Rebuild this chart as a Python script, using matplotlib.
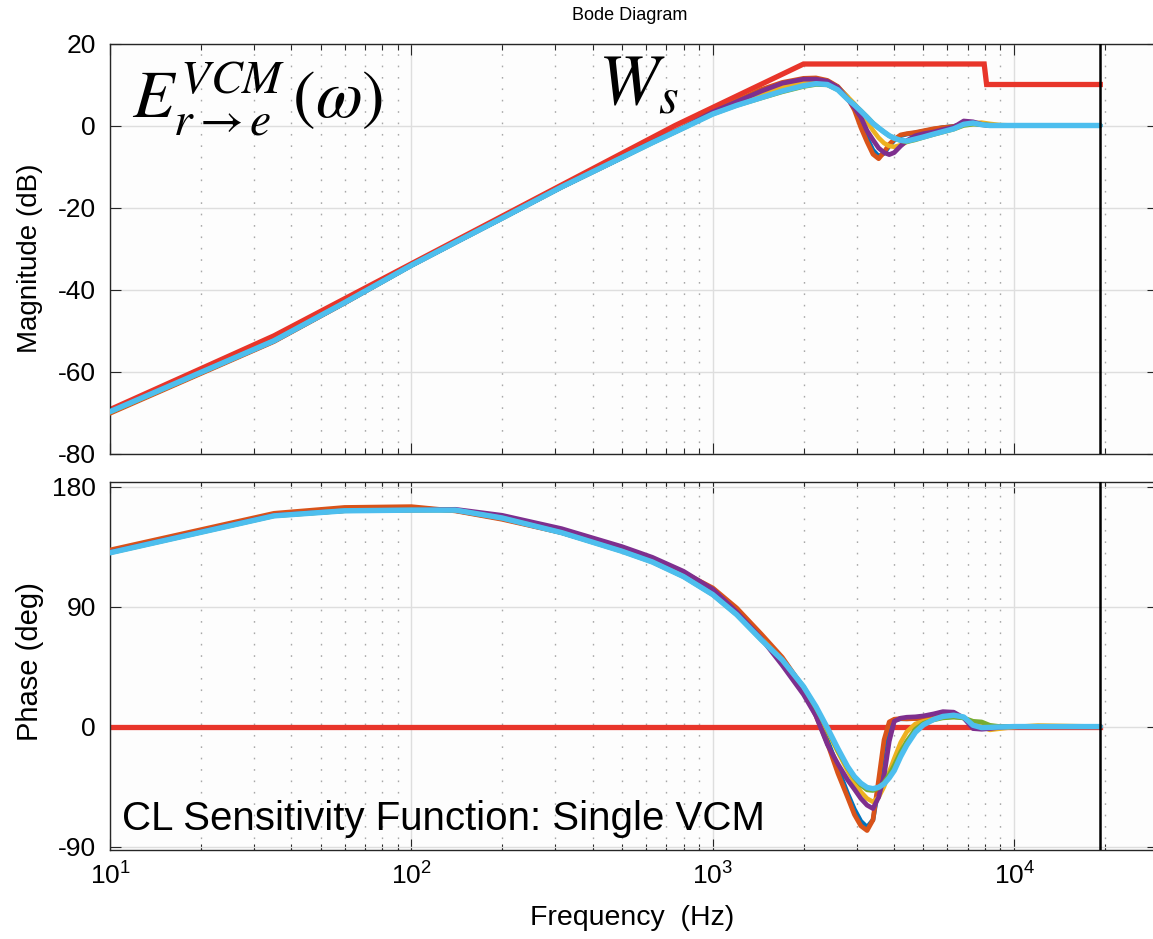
import matplotlib
matplotlib.use("Agg")
import matplotlib.pyplot as plt
from matplotlib.ticker import FixedLocator, FixedFormatter, LogLocator, NullFormatter

# ---------------------------------------------------------------------------
# Frequency response data (Hz, dB, deg)
# ---------------------------------------------------------------------------
freq_hz = [10, 35, 60, 100, 140, 200, 315, 500, 630, 800,
           1000, 1200, 1450, 1700, 2000, 2200, 2400, 2600, 2800, 2950,
           3100, 3250, 3400, 3550, 3700, 3850, 4000, 4200, 4400, 4700,
           5000, 5400, 5800, 6300, 6800, 7300, 7800, 8300, 9000, 10000,
           12000, 19300]

mag_plant1 = [-70.0, -52.6, -43.3, -34.1, -28.5, -22.6, -15.0, -7.8, -4.1, -0.5,
              3.2, 5.8, 8.5, 10.3, 11.3, 11.4, 10.8, 9.4, 6.9, 4.2,
              0.5, -3.0, -6.0, -7.5, -6.8, -5.0, -3.6, -2.5, -2.1, -1.8,
              -1.4, -0.9, -0.5, -0.2, 0.4, 0.5, 0.2, 0.0, 0.0, 0.0,
              0.0, 0.0]
mag_plant2 = [-70.2, -52.7, -43.3, -34.1, -28.5, -22.6, -15.0, -7.8, -4.1, -0.4,
              3.3, 6.0, 8.8, 10.5, 11.5, 11.6, 11.0, 9.5, 6.8, 3.8,
              -0.5, -4.0, -7.0, -8.1, -6.5, -4.6, -3.4, -2.3, -2.0, -1.7,
              -1.3, -0.8, -0.5, -0.25, 0.4, 0.6, 0.2, 0.0, 0.0, 0.0,
              0.0, 0.0]
mag_plant3 = [-69.9, -52.5, -43.2, -34.1, -28.5, -22.6, -15.0, -7.8, -4.2, -0.6,
              3.0, 5.3, 7.5, 9.3, 10.5, 10.8, 10.5, 9.3, 7.0, 5.3,
              3.2, 1.0, -1.2, -3.0, -4.3, -5.0, -5.2, -4.8, -4.0, -3.0,
              -2.3, -1.7, -1.1, -0.5, 0.3, 0.6, 0.7, 0.4, 0.1, 0.0,
              0.0, 0.0]
mag_plant4 = [-69.8, -52.5, -43.2, -34.1, -28.5, -22.6, -15.0, -7.8, -4.1, -0.5,
              3.3, 5.8, 8.4, 10.3, 11.3, 11.3, 10.8, 9.3, 6.5, 4.3,
              2.0, -1.3, -3.5, -5.5, -6.6, -7.1, -6.6, -5.0, -3.7, -2.5,
              -2.0, -1.6, -1.0, -0.4, 1.1, 0.9, 0.3, 0.0, 0.0, 0.0,
              0.0, 0.0]
mag_plant5 = [-69.9, -52.5, -43.2, -34.1, -28.5, -22.6, -15.0, -7.8, -4.2, -0.6,
              2.8, 4.9, 6.7, 8.2, 9.5, 10.0, 9.9, 8.7, 6.5, 5.1,
              3.6, 2.1, 0.6, -0.6, -1.6, -2.5, -3.1, -3.7, -4.0, -3.5,
              -2.9, -2.2, -1.6, -0.9, 0.0, 0.3, 0.3, 0.1, 0.0, 0.0,
              0.0, 0.0]
mag_plant6 = [-69.8, -52.5, -43.2, -34.1, -28.5, -22.6, -15.0, -7.8, -4.2, -0.6,
              2.8, 4.9, 6.8, 8.4, 9.7, 10.2, 10.0, 8.7, 6.4, 5.0,
              3.5, 2.0, 0.5, -0.6, -1.6, -2.5, -3.1, -3.6, -3.8, -3.3,
              -2.8, -2.1, -1.5, -0.8, 0.3, 0.6, 0.2, 0.0, 0.0, 0.0,
              0.0, 0.0]

ph_plant1 = [131.5, 159.3, 163.5, 164.0, 162.0, 156.0, 145.5, 132.0, 124.5, 114.5,
             102.5, 87.5, 68.0, 51.0, 28.5, 9.0, -10.0, -31.0, -50.0, -62.0,
             -71.0, -75.5, -70.0, -45.0, -16.0, 1.0, 5.0, 5.8, 5.8, 6.0,
             6.2, 6.8, 8.0, 8.5, 6.5, 1.5, 0.0, 0.0, 0.0, 0.0,
             0.0, 0.0]
ph_plant2 = [132.5, 160.0, 164.4, 165.0, 161.8, 155.5, 145.5, 132.5, 125.0, 115.5,
             104.0, 89.0, 69.3, 52.0, 29.0, 8.0, -12.5, -35.0, -53.0, -66.0,
             -74.5, -78.0, -70.0, -40.0, -10.0, 3.5, 5.5, 6.0, 5.8, 6.0,
             6.3, 7.0, 8.3, 8.8, 6.5, 1.5, 0.0, 0.0, 0.0, 0.0,
             0.0, 0.0]
ph_plant3 = [130.6, 158.3, 162.0, 162.5, 162.5, 157.0, 146.5, 132.5, 124.5, 113.5,
             100.0, 85.0, 66.0, 49.5, 29.0, 13.0, -3.0, -19.0, -33.0, -42.0,
             -49.0, -54.0, -56.5, -53.0, -45.0, -34.0, -24.0, -12.0, -4.0, 2.0,
             4.0, 5.5, 7.0, 7.5, 6.5, 3.0, 0.0, -2.5, -1.5, -0.3,
             0.8, 0.0]
ph_plant4 = [130.8, 158.5, 162.0, 162.5, 163.0, 158.5, 148.5, 135.0, 127.0, 116.5,
             103.0, 86.0, 66.0, 46.0, 24.0, 8.0, -13.5, -28.0, -40.0, -47.0,
             -54.0, -59.0, -61.5, -53.0, -37.0, -11.0, 4.0, 6.3, 7.0, 7.3,
             8.0, 9.5, 11.2, 10.8, 6.5, -1.5, -2.0, -1.5, -0.5, 0.0,
             0.0, 0.0]
ph_plant5 = [130.4, 158.1, 161.9, 162.4, 162.4, 156.5, 145.5, 131.5, 123.5, 112.5,
             99.0, 84.0, 65.0, 50.0, 30.0, 14.0, -2.0, -18.0, -31.0, -38.5,
             -44.0, -47.5, -48.0, -46.0, -42.0, -36.0, -29.0, -19.0, -11.0, -2.0,
             2.5, 5.0, 6.5, 7.0, 6.5, 4.0, 3.5, 1.0, 0.0, 0.0,
             0.0, 0.0]
ph_plant6 = [130.4, 158.1, 161.9, 162.4, 162.4, 156.5, 145.5, 131.5, 123.5, 112.5,
             99.0, 84.0, 65.0, 50.0, 30.0, 15.0, -1.0, -16.5, -30.0, -37.5,
             -42.5, -45.7, -46.6, -45.5, -43.0, -38.5, -33.0, -22.5, -14.0, -4.3,
             1.3, 5.3, 7.6, 8.5, 7.2, 1.0, -0.8, -0.6, -0.3, 0.0,
             0.0, 0.0]

# Sensitivity weighting bound W_s
ws_freq_hz = [10, 35, 750, 2000, 7950, 8100, 19300]
ws_mag_db = [-69.3, -51.3, 0.0, 15.0, 15.0, 10.0, 10.0]
ws_phase_deg = [0, 0, 0, 0, 0, 0, 0]

nyquist_hz = 19300

mag_curves = [mag_plant1, mag_plant2, mag_plant3, mag_plant4, mag_plant5, mag_plant6]
ph_curves = [ph_plant1, ph_plant2, ph_plant3, ph_plant4, ph_plant5, ph_plant6]
curve_colors = ["#0072BD", "#D95319", "#EDB120", "#7E2F8E", "#77AC30", "#4DBEEE"]
curve_widths = [3.3, 3.4, 3.3, 3.4, 3.3, 3.9]
ws_color = "#E8352A"

xticks = [10, 100, 1000, 10000]
xtick_labels = [r"$10^{1}$", r"$10^{2}$", r"$10^{3}$", r"$10^{4}$"]
mag_ticks = [-80, -60, -40, -20, 0, 20]
ph_ticks = [-90, 0, 90, 180]

# ---------------------------------------------------------------------------
plt.rcParams["font.family"] = ["Liberation Sans", "DejaVu Sans"]
plt.rcParams["mathtext.fontset"] = "custom"
plt.rcParams["mathtext.rm"] = "Liberation Sans"
plt.rcParams["mathtext.it"] = "Liberation Sans:italic"
plt.rcParams["mathtext.bf"] = "Liberation Sans:bold"
plt.rcParams["axes.unicode_minus"] = False

W, H = 1153, 939
fig = plt.figure(figsize=(W / 100, H / 100), dpi=100)


def add_axes_px(left, top, right, bottom):
    return fig.add_axes([left / W, 1 - bottom / H, (right - left) / W, (bottom - top) / H])


ax_mag = add_axes_px(110, 43.5, 1158, 453.5)
ax_ph = add_axes_px(110, 482, 1158, 850)

for ax in (ax_mag, ax_ph):
    ax.set_xscale("log")
    ax.set_xlim(10, 3e4)
    ax.set_facecolor("#FDFDFD")
    ax.set_axisbelow(True)
    ax.xaxis.set_major_locator(FixedLocator(xticks))
    ax.xaxis.set_minor_locator(LogLocator(base=10, subs=[2, 3, 4, 5, 6, 7, 8, 9], numticks=20))
    ax.xaxis.set_minor_formatter(NullFormatter())
    ax.tick_params(which="both", direction="in", top=True, right=True,
                   color="#262626", labelsize=19, labelcolor="black")
    ax.tick_params(which="major", length=8, width=0.8, pad=10)
    ax.tick_params(which="minor", length=4, width=0.8)
    ax.grid(which="major", color="#DEDEDE", lw=1.0, ls="-")
    ax.grid(which="minor", axis="x", color="#A8A8A8", lw=1.0, ls=(0, (1.2, 7)))
    for sp in ax.spines.values():
        sp.set_color("#262626")
        sp.set_linewidth(1.0)

ax_mag.set_ylim(-80, 20)
ax_mag.yaxis.set_major_locator(FixedLocator(mag_ticks))
ax_mag.xaxis.set_major_formatter(NullFormatter())

ax_ph.set_ylim(-92.6, 183.5)
ax_ph.yaxis.set_major_locator(FixedLocator(ph_ticks))
ax_ph.xaxis.set_major_formatter(FixedFormatter(xtick_labels))
ax_ph.tick_params(axis="x", which="major", pad=9)

# weighting bound underneath the measured responses
ax_mag.plot(ws_freq_hz, ws_mag_db, color=ws_color, lw=3.8, zorder=2, solid_joinstyle="miter")
ax_ph.plot(ws_freq_hz, ws_phase_deg, color=ws_color, lw=3.8, zorder=2)

for mag, ph, col, lw in zip(mag_curves, ph_curves, curve_colors, curve_widths):
    ax_mag.plot(freq_hz, mag, color=col, lw=lw, zorder=3,
                solid_joinstyle="round", solid_capstyle="round")
    ax_ph.plot(freq_hz, ph, color=col, lw=lw, zorder=3,
               solid_joinstyle="round", solid_capstyle="round")

for ax in (ax_mag, ax_ph):
    ax.axvline(nyquist_hz, color="black", lw=1.8, zorder=4)

# labels
fig.text(630 / W, 1 - 15 / H, "Bode Diagram", ha="center", va="center", fontsize=13)
fig.text(30 / W, 1 - 258 / H, "Magnitude (dB)", rotation=90, ha="center", va="center", fontsize=20)
fig.text(30 / W, 1 - 662 / H, "Phase (deg)", rotation=90, ha="center", va="center", fontsize=21)
fig.text(632 / W, 1 - 918 / H, "Frequency  (Hz)", ha="center", va="center", fontsize=20.5)

fig.text(132 / W, 1 - 117 / H, r"$E^{VCM}_{r\rightarrow e}\,(\omega)$", ha="left", va="baseline",
         fontsize=49, math_fontfamily="stix")
fig.text(598 / W, 1 - 104 / H, r"$W_{s}$", ha="left", va="baseline",
         fontsize=52, math_fontfamily="stix")
fig.text(122 / W, 1 - 830 / H, "CL Sensitivity Function: Single VCM", ha="left", va="baseline",
         fontsize=29)

fig.savefig("out.png", dpi=100)
